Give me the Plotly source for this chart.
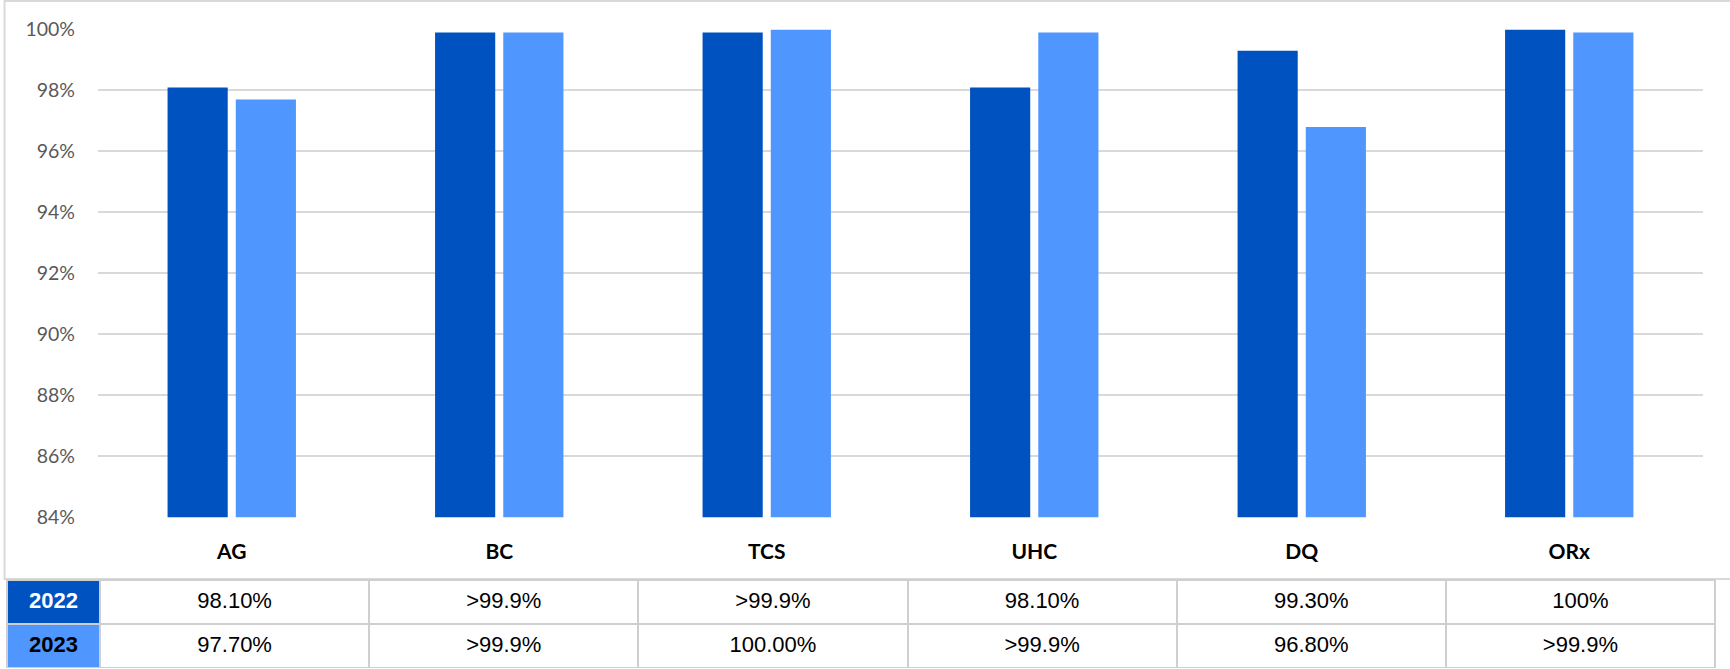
import plotly.graph_objects as go

categories = ["AG", "BC", "TCS", "UHC", "DQ", "ORx"]
values_2022 = [98.1, 99.9, 99.9, 98.1, 99.3, 100.0]
values_2023 = [97.7, 99.9, 100.0, 99.9, 96.8, 99.9]
labels_2022 = ["98.10%", ">99.9%", ">99.9%", "98.10%", "99.30%", "100%"]
labels_2023 = ["97.70%", ">99.9%", "100.00%", ">99.9%", "96.80%", ">99.9%"]
years = ["2022", "2023"]

DARK = "#0052C0"
LIGHT = "#4F96FF"
GRID = "#D9D9D9"
W, H = 1730, 669

def px_x(p):
    return p / W

def px_y(p):
    return (H - p) / H

def cell(txt, bold=False):
    inner = "<b>%s</b>" % txt if bold else txt
    return "<br><span style='font-size:22px'>%s</span>" % inner

fig = go.Figure()
fig.add_trace(go.Bar(x=categories, y=values_2022, name=years[0],
                     marker=dict(color=DARK, line=dict(width=0)),
                     xaxis="x", yaxis="y"))
fig.add_trace(go.Bar(x=categories, y=values_2023, name=years[1],
                     marker=dict(color=LIGHT, line=dict(width=0)),
                     xaxis="x", yaxis="y"))

n = len(categories)
header_vals = [cell(years[0], True)] + [cell(v) for v in labels_2022]
cell_vals = [[cell(years[1], True)]] + [[cell(v)] for v in labels_2023]

fig.add_trace(go.Table(
    domain=dict(x=[px_x(7), px_x(1715)], y=[px_y(668), px_y(580)]),
    columnwidth=[93] + [269] * n,
    header=dict(values=header_vals,
                fill=dict(color=[DARK] + ["white"] * n),
                line=dict(color="#CFCFCF", width=2),
                font=dict(family="Liberation Sans, Arial", size=5,
                          color=["white"] + ["black"] * n),
                align="center", height=44),
    cells=dict(values=cell_vals,
               fill=dict(color=[LIGHT] + ["white"] * n),
               line=dict(color="#CFCFCF", width=2),
               font=dict(family="Liberation Sans, Arial", size=5,
                         color=["black"] * (n + 1)),
               align="center", height=44),
))

fig.update_layout(
    template="none",
    width=W, height=H,
    margin=dict(l=0, r=0, t=0, b=0, autoexpand=False),
    paper_bgcolor="white", plot_bgcolor="white",
    barmode="group", bargap=0.49, bargroupgap=0.118,
    showlegend=False,
    xaxis=dict(domain=[px_x(98), px_x(1703)], showgrid=False, showline=False,
               zeroline=False, automargin=False,
               ticks="", tickfont=dict(family="Lato, Liberation Sans", size=21, color="black", weight="bold"),
               ticklabelstandoff=20, fixedrange=True),
    yaxis=dict(domain=[px_y(517.3), px_y(29.5)], range=[84, 100], automargin=False,
               tickmode="linear", tick0=84, dtick=2, ticksuffix="%",
               showgrid=True, gridcolor=GRID, gridwidth=2,
               zeroline=False, showline=False, ticks="",
               tickfont=dict(family="Lato, Liberation Sans", size=19.5, color="#595959"),
               ticklabelstandoff=22, fixedrange=True),
    shapes=[dict(type="rect", xref="paper", yref="paper",
                 x0=px_x(4.5), x1=1.02, y0=px_y(579), y1=px_y(1),
                 line=dict(color=GRID, width=2), fillcolor="rgba(0,0,0,0)", layer="below")],
)

fig.write_html("out.html")
